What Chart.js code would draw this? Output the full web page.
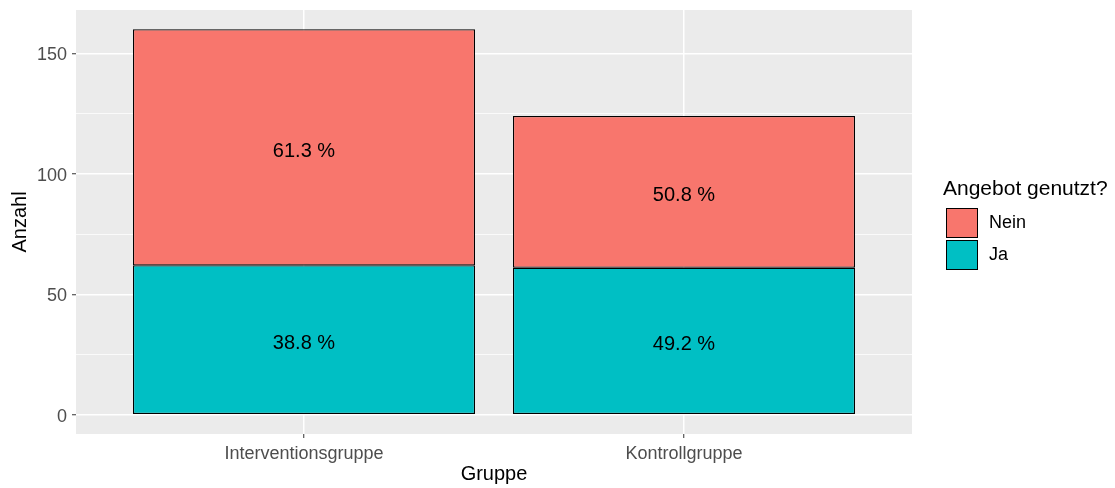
<!DOCTYPE html>
<html>
<head>
<meta charset="utf-8">
<script src="https://cdn.jsdelivr.net/npm/chart.js@4.4.1/dist/chart.umd.min.js"></script>
<style>
  html, body { margin: 0; padding: 0; background: #fff; }
  #wrap { width: 1115px; height: 488px; position: relative; }
</style>
</head>
<body>
<div id="wrap"><canvas id="chart"></canvas></div>
<script>
const groups = ['Interventionsgruppe', 'Kontrollgruppe'];
const ja = [62, 61];
const nein = [98, 63];
const yTicks = [0, 50, 100, 150];
const yMinor = [25, 75, 125];
const legendTitle = 'Angebot genutzt?';

const family = '"Liberation Sans", Arial, sans-serif';

function pts(values) {
    return values.map((v, i) => ({ x: i + 1, y: v }));
}

// grey panel behind the grid, like ggplot's theme_gray
const panelBg = {
    id: 'panelBg',
    beforeDraw(chart) {
        const { ctx, chartArea: a } = chart;
        ctx.save();
        ctx.fillStyle = '#EBEBEB';
        ctx.fillRect(a.left, a.top, a.right - a.left, a.bottom - a.top);
        ctx.restore();
    }
};

// percentage labels in the middle of each segment
const barText = {
    id: 'barText',
    afterDatasetsDraw(chart) {
        const ctx = chart.ctx;
        ctx.save();
        ctx.font = '20px ' + family;
        ctx.fillStyle = '#000';
        ctx.textAlign = 'center';
        ctx.textBaseline = 'middle';
        chart.data.datasets.forEach((ds, di) => {
            chart.getDatasetMeta(di).data.forEach((bar, i) => {
                const total = ja[i] + nein[i];
                const pct = (ds.data[i].y / total * 100).toFixed(1) + ' %';
                ctx.fillText(pct, bar.x, (bar.y + bar.base) / 2 + 4);
            });
        });
        ctx.restore();
    }
};

// legend on the right, Nein above Ja
const legendBox = {
    id: 'legendBox',
    afterDraw(chart) {
        const ctx = chart.ctx;
        ctx.save();
        ctx.fillStyle = '#000';
        ctx.font = '21px ' + family;
        ctx.textBaseline = 'alphabetic';
        ctx.textAlign = 'left';
        ctx.fillText(legendTitle, 943, 195);
        const items = chart.data.datasets.slice().reverse();
        items.forEach((ds, k) => {
            const top = 208.5 + k * 32;
            ctx.fillStyle = ds.backgroundColor;
            ctx.fillRect(946.5, top, 31, 29);
            ctx.strokeStyle = '#000';
            ctx.lineWidth = 1;
            ctx.strokeRect(946.5, top, 31, 29);
            ctx.fillStyle = '#000';
            ctx.font = '18px ' + family;
            ctx.textBaseline = 'middle';
            ctx.fillText(ds.label, 989, top + 15);
        });
        ctx.restore();
    }
};

new Chart(document.getElementById('chart'), {
    type: 'bar',
    data: {
        datasets: [
            { label: 'Ja', data: pts(ja), backgroundColor: '#00BFC4', borderColor: '#000', borderWidth: 1.2, borderSkipped: false },
            { label: 'Nein', data: pts(nein), backgroundColor: '#F8766D', borderColor: '#000', borderWidth: 1.2, borderSkipped: false }
        ]
    },
    options: {
        responsive: true,
        maintainAspectRatio: false,
        animation: false,
        categoryPercentage: 1,
        barPercentage: 0.9,
        layout: { padding: { top: 10, right: 203, left: 0, bottom: 0 } },
        plugins: {
            legend: { display: false },
            tooltip: { enabled: false }
        },
        scales: {
            x: {
                type: 'linear',
                min: 0.4,
                max: 2.6,
                offset: false,
                stacked: true,
                afterBuildTicks: s => { s.ticks = groups.map((g, i) => ({ value: i + 1 })); },
                afterFit: s => { s.height = 54; s.paddingLeft = 0; s.paddingRight = 0; },
                ticks: {
                    callback: v => groups[v - 1],
                    color: '#4D4D4D',
                    font: { family: family, size: 18 },
                    padding: 5,
                    autoSkip: false,
                    maxRotation: 0
                },
                grid: { offset: false, color: '#fff', lineWidth: 1.5, tickColor: '#333', tickLength: 4, tickWidth: 1 },
                border: { display: false },
                title: { display: true, text: 'Gruppe', color: '#000', font: { family: family, size: 20 }, padding: { top: 0, bottom: 2 } }
            },
            y: {
                min: -8,
                max: 168,
                stacked: true,
                afterBuildTicks: s => { s.ticks = yTicks.concat(yMinor).sort((a, b) => a - b).map(v => ({ value: v })); },
                afterFit: s => { s.width = 76; s.paddingTop = 0; s.paddingBottom = 0; },
                ticks: {
                    callback: v => yTicks.includes(v) ? v : '',
                    color: '#4D4D4D',
                    font: { family: family, size: 18 },
                    padding: 5,
                    labelOffset: 2,
                    autoSkip: false
                },
                grid: {
                    color: '#fff',
                    lineWidth: c => yTicks.includes(c.tick.value) ? 1.5 : 0.75,
                    tickColor: c => yTicks.includes(c.tick.value) ? '#333' : 'rgba(0,0,0,0)',
                    tickLength: 4,
                    tickWidth: 1
                },
                border: { display: false },
                title: { display: true, text: 'Anzahl', color: '#000', font: { family: family, size: 20 }, padding: { top: 8, bottom: 0 } }
            }
        }
    },
    plugins: [panelBg, barText, legendBox]
});
</script>
</body>
</html>
